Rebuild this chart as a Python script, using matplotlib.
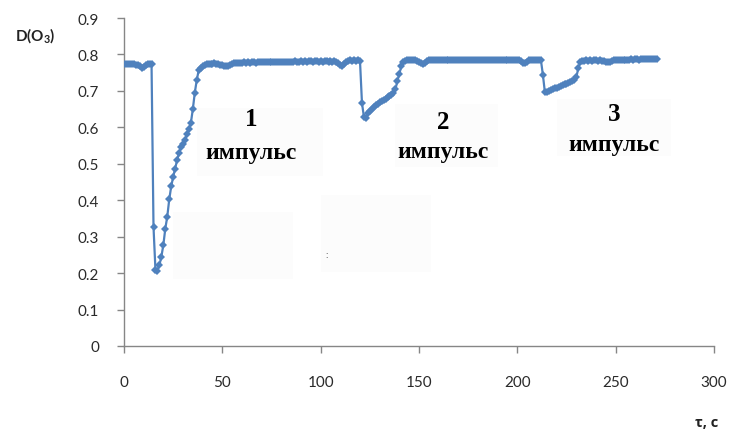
import matplotlib
matplotlib.use('Agg')
import matplotlib.pyplot as plt
import numpy as np
from matplotlib.patches import Rectangle

plt.rcParams['font.family'] = ['Lato', 'DejaVu Sans']
plt.rcParams['mathtext.fontset'] = 'custom'
plt.rcParams['mathtext.bf'] = 'Lato:bold'
plt.rcParams['mathtext.rm'] = 'Lato'

# Оптическая плотность озона, отсчёты через 1 с
d_o3 = [
    # 0-14
    0.774, 0.774, 0.773, 0.774, 0.773, 0.773, 0.772, 0.770, 0.767, 0.763,
    0.765, 0.770, 0.774, 0.775, 0.774,
    # 15-38, первый импульс
    0.327, 0.208, 0.207, 0.222, 0.245, 0.277, 0.322, 0.355, 0.402, 0.438,
    0.464, 0.487, 0.510, 0.530, 0.545, 0.554, 0.565, 0.581, 0.596, 0.612,
    0.650, 0.695, 0.730, 0.757,
    # 39-120
    0.764, 0.769, 0.772, 0.773, 0.774, 0.775, 0.775, 0.776, 0.775, 0.774,
    0.772, 0.771, 0.769, 0.768, 0.769, 0.771, 0.774, 0.776, 0.777, 0.776,
    0.777, 0.777, 0.778, 0.777, 0.778, 0.777, 0.778, 0.778, 0.777, 0.778,
    0.778, 0.779, 0.778, 0.779, 0.778, 0.779, 0.779, 0.778, 0.779, 0.780,
    0.779, 0.780, 0.779, 0.780, 0.780, 0.779, 0.780, 0.780, 0.781, 0.780,
    0.780, 0.781, 0.780, 0.781, 0.780, 0.781, 0.781, 0.780, 0.781, 0.781,
    0.780, 0.781, 0.780, 0.781, 0.781, 0.780, 0.781, 0.780, 0.781, 0.780,
    0.776, 0.771, 0.769, 0.774, 0.779, 0.783, 0.784, 0.783, 0.784, 0.783,
    0.784, 0.782,
    # 121-142, второй импульс
    0.667, 0.628, 0.626, 0.639, 0.645, 0.651, 0.657, 0.661, 0.665, 0.669,
    0.673, 0.676, 0.679, 0.682, 0.686, 0.689, 0.694, 0.704, 0.727, 0.747,
    0.767, 0.779,
    # 143-212
    0.782, 0.784, 0.785, 0.784, 0.785, 0.784, 0.782, 0.779, 0.776, 0.775,
    0.777, 0.781, 0.784, 0.785, 0.784, 0.785, 0.785, 0.784, 0.785, 0.784,
    0.785, 0.785, 0.786, 0.785, 0.784, 0.785, 0.786, 0.785, 0.785, 0.786,
    0.785, 0.786, 0.785, 0.786, 0.786, 0.785, 0.786, 0.785, 0.786, 0.786,
    0.785, 0.786, 0.786, 0.785, 0.786, 0.785, 0.786, 0.786, 0.785, 0.786,
    0.785, 0.786, 0.786, 0.785, 0.786, 0.785, 0.786, 0.785, 0.784, 0.781,
    0.777, 0.776, 0.780, 0.784, 0.785, 0.786, 0.785, 0.786, 0.785, 0.784,
    # 213-232, третий импульс
    0.744, 0.697, 0.698, 0.700, 0.703, 0.705, 0.707, 0.709, 0.711, 0.714,
    0.716, 0.718, 0.720, 0.722, 0.725, 0.727, 0.730, 0.738, 0.762, 0.779,
    # 233-271
    0.782, 0.783, 0.784, 0.783, 0.784, 0.783, 0.784, 0.784, 0.783, 0.784,
    0.783, 0.782, 0.780, 0.778, 0.779, 0.782, 0.784, 0.785, 0.784, 0.785,
    0.785, 0.786, 0.785, 0.786, 0.786, 0.787, 0.786, 0.787, 0.787, 0.786,
    0.787, 0.788, 0.787, 0.788, 0.788, 0.787, 0.788, 0.788, 0.788,
]
t = np.arange(len(d_o3))

pulse_x = [64.6, 162.2, 249.3]
pulse_num_y = [0.623, 0.617, 0.637]
pulse_word_y = [0.532, 0.535, 0.552]
pulse_nums = ['1', '2', '3']

x_ticks = [0, 50, 100, 150, 200, 250, 300]
y_ticks = [0, 0.1, 0.2, 0.3, 0.4, 0.5, 0.6, 0.7, 0.8, 0.9]

fig = plt.figure(figsize=(7.32, 4.39), dpi=100)
ax = fig.add_axes([0.1694, 0.2096, 0.806, 0.7471])

# бледные подложки под подписями
boxes = [(37, 0.466, 64, 0.186), (25, 0.184, 61, 0.185), (100, 0.203, 56, 0.21),
         (138, 0.49, 52, 0.175), (220, 0.52, 58, 0.158)]
for bx, by, bw, bh in boxes:
    ax.add_patch(Rectangle((bx, by), bw, bh, facecolor='#fcfcfc',
                           edgecolor='none', zorder=0))

ax.plot(t, d_o3, color='#4F81BD', lw=1.6, marker='D', markersize=4.4,
        markeredgewidth=0, zorder=3)

for x, yn, yw, n in zip(pulse_x, pulse_num_y, pulse_word_y, pulse_nums):
    ax.text(x, yn, n, fontsize=18, fontweight='bold', ha='center', va='center',
            family='Liberation Serif', zorder=4)
    ax.text(x, yw, 'импульс', fontsize=17, fontweight='bold', ha='center',
            va='center', family='Liberation Serif', zorder=4)
ax.text(103.2, 0.25, ':', fontsize=7, ha='center', va='center', color='#333333')

ax.set_xlim(0, 300)
ax.set_ylim(0, 0.9)
ax.set_xticks(x_ticks)
ax.set_yticks(y_ticks)
ax.set_xticklabels([str(v) for v in x_ticks])
ax.set_yticklabels(['0'] + ['%.1f' % v for v in y_ticks[1:]])

for s in ['top', 'right']:
    ax.spines[s].set_visible(False)
for s in ['left', 'bottom']:
    ax.spines[s].set_color('#868686')
    ax.spines[s].set_linewidth(1.0)
ax.tick_params(axis='both', direction='out', length=5, width=1.0,
               color='#868686', labelsize=11, labelcolor='#2a2a2a')
ax.tick_params(axis='y', pad=13)
ax.tick_params(axis='x', pad=16)

fig.text(0.048, 0.918, r'$\mathbf{D(O_3)}$', fontsize=11, ha='center',
         va='center', color='#222222')
fig.text(0.981, 0.036, 'τ, с', fontsize=10.5, fontweight='bold', ha='right',
         va='center', color='#222222', family=['Open Sans', 'DejaVu Sans'])

fig.savefig('out.png', dpi=100)
